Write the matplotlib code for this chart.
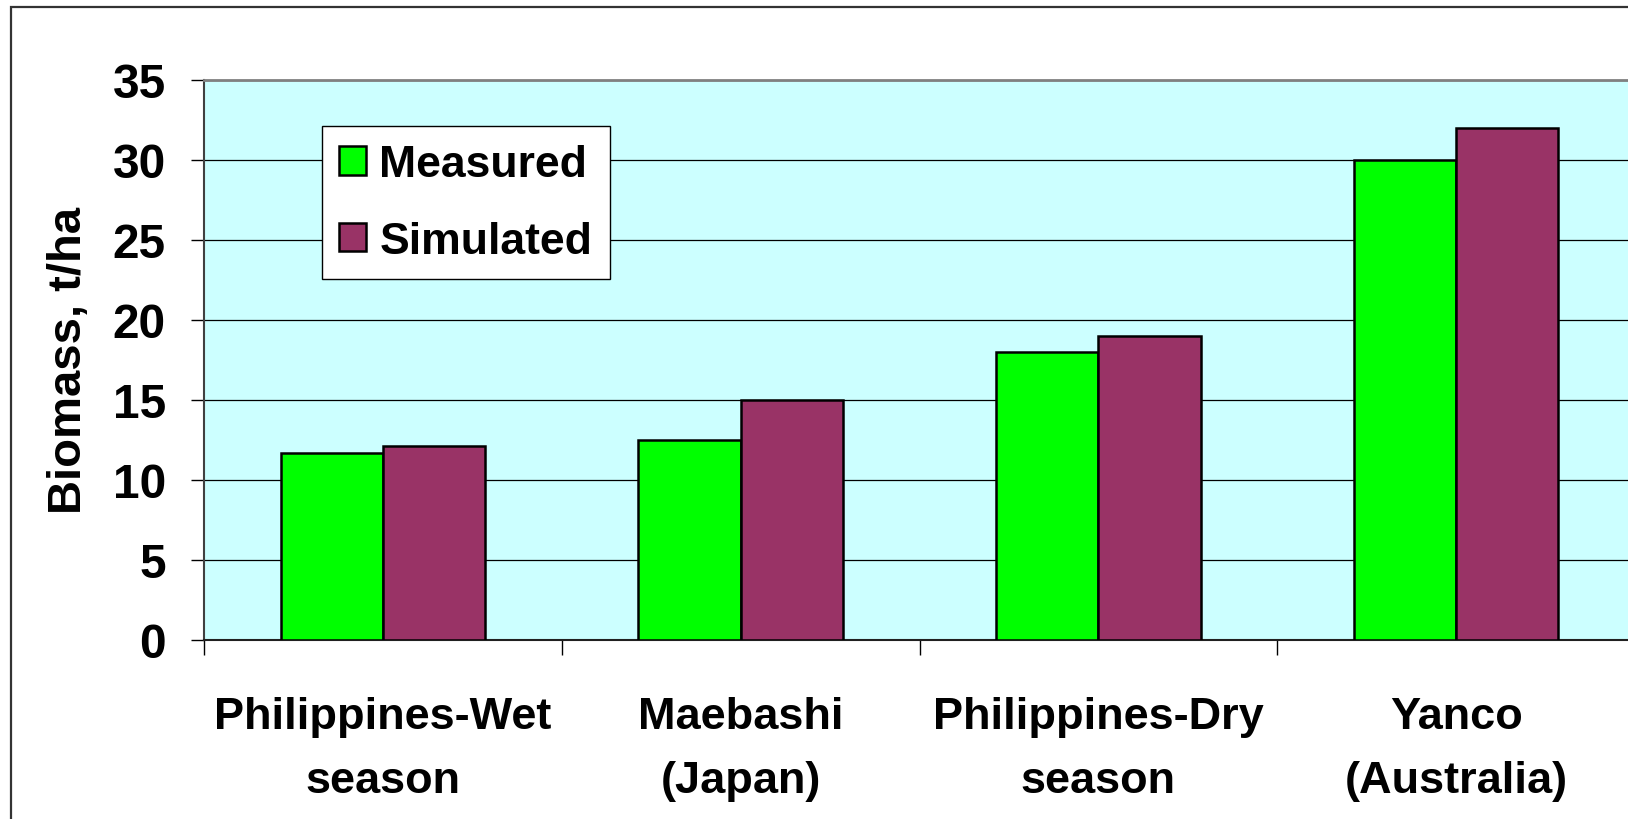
import matplotlib
matplotlib.use('Agg')
import matplotlib.pyplot as plt
from matplotlib.patches import Rectangle
import numpy as np

sites = ['Philippines-Wet\nseason', 'Maebashi\n(Japan)', 'Philippines-Dry\nseason', 'Yanco\n(Australia)']
measured = [11.7, 12.5, 18.0, 30.0]
simulated = [12.1, 15.0, 19.0, 32.0]
yticks = [0, 5, 10, 15, 20, 25, 30, 35]

W, H = 1628, 820
plt.rcParams['font.family'] = ['Liberation Sans', 'DejaVu Sans']
plt.rcParams['font.weight'] = 'bold'

fig = plt.figure(figsize=(W / 100, H / 100), dpi=100)
ax = fig.add_axes([204 / W, 1 - 641 / H, (1635 - 204) / W, (641 - 81) / H])
ax.set_facecolor('#CCFFFF')

x = np.arange(len(sites))
bw = 1 / 3.5
ax.bar(x - bw / 2, measured, bw, color='#00FF00', edgecolor='black', linewidth=1.8, label='Measured', zorder=3)
ax.bar(x + bw / 2, simulated, bw, color='#993366', edgecolor='black', linewidth=1.8, label='Simulated', zorder=3)

ax.set_xlim(-0.5, len(sites) - 0.5)
ax.set_ylim(0, 35)
ax.set_yticks(yticks)
ax.set_yticklabels([str(v) for v in yticks], fontsize=34.5, fontweight='bold')
ax.yaxis.grid(True, color='black', linewidth=0.9, zorder=0)
ax.set_axisbelow(True)

# boundaries between sites get the tick marks, labels sit in the middle
ax.set_xticks(np.arange(-0.5, len(sites), 1.0))
ax.set_xticklabels([])
ax.set_xticks(x, minor=True)
ax.set_xticklabels(sites, minor=True, fontsize=32.5, fontweight='bold', linespacing=1.72)
ax.tick_params(axis='x', which='major', direction='out', length=11, width=1, color='black')
ax.tick_params(axis='x', which='minor', length=0, pad=40)
ax.tick_params(axis='y', direction='out', length=9.5, width=1, pad=18, color='black')

ax.spines['left'].set_color('#404040')
ax.spines['left'].set_linewidth(1.5)
ax.spines['bottom'].set_color('#202020')
ax.spines['bottom'].set_linewidth(1.5)
ax.spines['top'].set_color('#808080')
ax.spines['top'].set_linewidth(2)
ax.spines['right'].set_visible(False)

ax.set_ylabel('Biomass, t/ha', fontsize=34, fontweight='bold')
ax.yaxis.set_label_coords((91 - 204) / (1635 - 204), 0.5)

leg = ax.legend(loc='upper left', bbox_to_anchor=(321.7 / W, 1 - 127.3 / H),
                bbox_transform=fig.transFigure, borderaxespad=0,
                prop={'size': 32, 'weight': 'bold'}, fancybox=False, shadow=False,
                framealpha=1, edgecolor='black', handlelength=0.6, handleheight=0.6,
                handletextpad=0.3, borderpad=0.4, labelspacing=0.8)
leg.get_frame().set_linewidth(1.0)
leg.set_zorder(5)

# outer chart frame
fig.patches.append(Rectangle((10.7 / W, -0.1), 1.2, 1 - 7.5 / H + 0.1,
                             transform=fig.transFigure, fill=False,
                             edgecolor='#333333', linewidth=1.6))

fig.savefig('out.png', dpi=100)
